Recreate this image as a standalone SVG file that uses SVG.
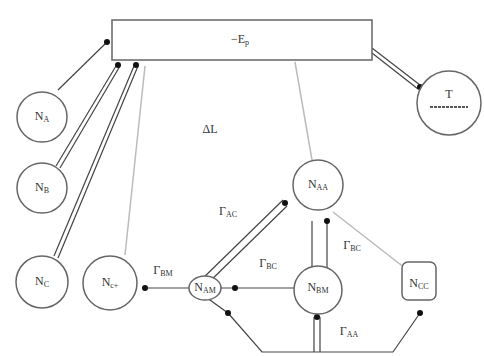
<svg xmlns="http://www.w3.org/2000/svg" width="484" height="356" viewBox="0 0 484 356">
<defs>
<style>
.node{fill:#fff;stroke:#666;stroke-width:1.5}
.lbl{font-family:"Liberation Serif",serif;font-size:12px;fill:#333;text-anchor:middle;dominant-baseline:middle}
.sub{font-size:8px}
.ln{stroke:#444;stroke-width:1.2;fill:none}
.gr{stroke:#bbb;stroke-width:1.5;fill:none}
.dot{fill:#111}
</style>
</defs>
<rect width="484" height="356" fill="#fff"/>
<g id="connectors">
<line class="ln" x1="58" y1="90" x2="107" y2="42"/>
<line class="ln" x1="56" y1="166" x2="116" y2="66"/>
<line class="ln" x1="60" y1="168" x2="120" y2="66"/>
<line class="ln" x1="54" y1="256" x2="134" y2="66"/>
<line class="ln" x1="58" y1="258" x2="138" y2="66"/>
<line class="gr" x1="145" y1="66" x2="125" y2="255"/>
<line class="gr" x1="295" y1="62" x2="312" y2="160"/>
<line class="ln" x1="372" y1="48" x2="420" y2="85"/>
<line class="ln" x1="372" y1="53" x2="418" y2="89"/>
<line class="ln" x1="145" y1="288" x2="300" y2="288"/>
<line class="ln" x1="198" y1="283" x2="283" y2="200"/>
<line class="ln" x1="203" y1="288" x2="287" y2="206"/>
<line class="ln" x1="312" y1="221" x2="312" y2="268"/>
<line class="ln" x1="327" y1="221" x2="327" y2="268"/>
<line class="gr" x1="333" y1="212" x2="410" y2="272"/>
<polyline class="ln" points="228,313 262,352 393,352 420,313"/>
<line class="ln" x1="314" y1="317" x2="314" y2="352"/>
<line class="ln" x1="320" y1="317" x2="320" y2="352"/>
<line class="ln" x1="203" y1="295" x2="228" y2="313"/>
<circle class="dot" cx="107" cy="42" r="3"/>
<circle class="dot" cx="118" cy="65" r="3"/>
<circle class="dot" cx="136" cy="65" r="3"/>
<circle class="dot" cx="420" cy="87" r="3"/>
<circle class="dot" cx="145" cy="288" r="3"/>
<circle class="dot" cx="235" cy="288" r="3"/>
<circle class="dot" cx="285" cy="203" r="3"/>
<circle class="dot" cx="327" cy="221" r="3"/>
<circle class="dot" cx="228" cy="313" r="3"/>
<circle class="dot" cx="317" cy="317" r="3"/>
<circle class="dot" cx="420" cy="313" r="3"/>
</g>
<g id="top">
<rect class="node" x="112" y="20" width="260" height="40"/>
<text class="lbl" x="240" y="40">−E<tspan class="sub" dy="3">p</tspan></text>
</g>
<g id="T">
<circle class="node" cx="449" cy="103" r="32"/>
<text class="lbl" x="449" y="95">T</text>
<line x1="430" y1="107" x2="468" y2="107" stroke="#222" stroke-width="1.5" stroke-dasharray="3,1"/>
</g>
<g id="NA">
<circle class="node" cx="42" cy="117" r="25"/>
<text class="lbl" x="42" y="117">N<tspan class="sub" dy="3">A</tspan></text>
</g>
<g id="NB">
<circle class="node" cx="42" cy="188" r="25"/>
<text class="lbl" x="42" y="188">N<tspan class="sub" dy="3">B</tspan></text>
</g>
<g id="NC">
<circle class="node" cx="42" cy="282" r="26"/>
<text class="lbl" x="42" y="282">N<tspan class="sub" dy="3">C</tspan></text>
</g>
<g id="Nc">
<circle class="node" cx="110" cy="283" r="27"/>
<text class="lbl" x="110" y="283">N<tspan class="sub" dy="3">c+</tspan></text>
</g>
<g id="NAM">
<ellipse class="node" cx="205" cy="288" rx="16" ry="12"/>
<text class="lbl" x="205" y="288">N<tspan class="sub" dy="3">AM</tspan></text>
</g>
<g id="NAA">
<circle class="node" cx="318" cy="185" r="25"/>
<text class="lbl" x="318" y="185">N<tspan class="sub" dy="3">AA</tspan></text>
</g>
<g id="NBM">
<circle class="node" cx="318" cy="290" r="24"/>
<text class="lbl" x="318" y="288">N<tspan class="sub" dy="3">BM</tspan></text>
</g>
<g id="NCC">
<rect class="node" x="402" y="262" width="34" height="38" rx="6"/>
<text class="lbl" x="419" y="284">N<tspan class="sub" dy="3">CC</tspan></text>
</g>
<g id="labels">
<text class="lbl" x="210" y="130">ΔL</text>
<text class="lbl" x="228" y="212">Γ<tspan class="sub" dy="3">AC</tspan></text>
<text class="lbl" x="163" y="271">Γ<tspan class="sub" dy="3">BM</tspan></text>
<text class="lbl" x="268" y="264">Γ<tspan class="sub" dy="3">BC</tspan></text>
<text class="lbl" x="352" y="246">Γ<tspan class="sub" dy="3">BC</tspan></text>
<text class="lbl" x="349" y="332">Γ<tspan class="sub" dy="3">AA</tspan></text>
</g>
</svg>
